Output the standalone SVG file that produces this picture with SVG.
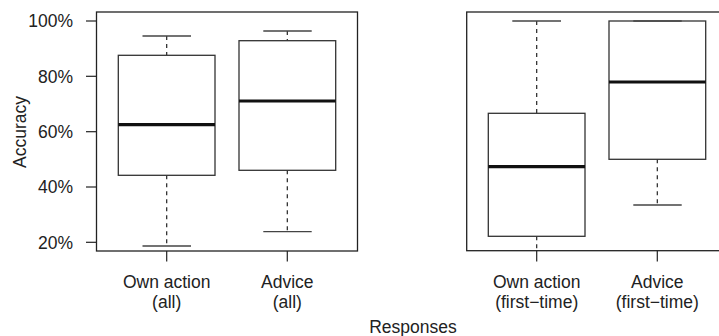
<svg xmlns="http://www.w3.org/2000/svg" width="719" height="336" viewBox="0 0 719 336">
<style>
text{font-family:"Liberation Sans",Arial,Helvetica,sans-serif;font-size:17.5px;fill:#222}
.frame{fill:none;stroke:#222;stroke-width:1.3}
.box{fill:#fff;stroke:#333;stroke-width:1.3}
.med{stroke:#111;stroke-width:3.2}
.wh{stroke:#222;stroke-width:1.2;stroke-dasharray:4 4}
.cap{stroke:#444;stroke-width:1.3}
.tick{stroke:#222;stroke-width:1.2}
.yl{text-anchor:end}
.xl{text-anchor:middle}
</style>
<defs>
<clipPath id="clipR"><rect x="466.7" y="12" width="261" height="238.7"/></clipPath>
</defs>
<rect width="719" height="336" fill="#fff"/>

<g id="axes-left">
<rect class="frame" x="96.5" y="12" width="261" height="239"/>
<line class="tick" x1="86" y1="21" x2="96.5" y2="21"/>
<line class="tick" x1="86" y1="76.3" x2="96.5" y2="76.3"/>
<line class="tick" x1="86" y1="131.7" x2="96.5" y2="131.7"/>
<line class="tick" x1="86" y1="187" x2="96.5" y2="187"/>
<line class="tick" x1="86" y1="242.3" x2="96.5" y2="242.3"/>
<text class="yl" x="73" y="27.3">100%</text>
<text class="yl" x="73" y="82.6">80%</text>
<text class="yl" x="73" y="138">60%</text>
<text class="yl" x="73" y="193.3">40%</text>
<text class="yl" x="73" y="248.6">20%</text>
<text class="xl" transform="translate(26,132) rotate(-90)">Accuracy</text>
<line class="tick" x1="166.7" y1="251" x2="166.7" y2="261.5"/>
<line class="tick" x1="287.3" y1="251" x2="287.3" y2="261.5"/>
<text class="xl" x="166.7" y="288">Own action</text>
<text class="xl" x="166.7" y="308">(all)</text>
<text class="xl" x="287.3" y="288">Advice</text>
<text class="xl" x="287.3" y="308">(all)</text>
</g>

<g id="axes-right">
<rect class="frame" x="466.7" y="12" width="261" height="238.7"/>
<line class="tick" x1="536.7" y1="250.7" x2="536.7" y2="261.5"/>
<line class="tick" x1="657.3" y1="250.7" x2="657.3" y2="261.5"/>
<text class="xl" x="536.7" y="288">Own action</text>
<text class="xl" x="536.7" y="308">(first−time)</text>
<text class="xl" x="657.3" y="288">Advice</text>
<text class="xl" x="657.3" y="308">(first−time)</text>
</g>

<g id="box-own-all">
<line class="wh" x1="166.7" y1="36" x2="166.7" y2="55.3"/>
<line class="wh" x1="166.7" y1="175.3" x2="166.7" y2="246"/>
<line class="cap" x1="142.5" y1="36" x2="191" y2="36"/>
<line class="cap" x1="142.5" y1="246" x2="191" y2="246"/>
<rect class="box" x="118.3" y="55.3" width="96.7" height="120"/>
<line class="med" x1="118.3" y1="124.7" x2="215" y2="124.7"/>
</g>

<g id="box-advice-all">
<line class="wh" x1="287.3" y1="31" x2="287.3" y2="40.7"/>
<line class="wh" x1="287.3" y1="170.3" x2="287.3" y2="231.7"/>
<line class="cap" x1="263.3" y1="31" x2="311.7" y2="31"/>
<line class="cap" x1="263.3" y1="231.7" x2="311.7" y2="231.7"/>
<rect class="box" x="239" y="40.7" width="96.7" height="129.6"/>
<line class="med" x1="239" y1="101" x2="335.7" y2="101"/>
</g>

<g id="box-own-first" clip-path="url(#clipR)">
<line class="wh" x1="536.7" y1="21" x2="536.7" y2="113.3"/>
<line class="wh" x1="536.7" y1="236.3" x2="536.7" y2="300"/>
<line class="cap" x1="512.3" y1="21" x2="561" y2="21"/>
<rect class="box" x="488.3" y="113.3" width="96.7" height="123"/>
<line class="med" x1="488.3" y1="166.7" x2="585" y2="166.7"/>
</g>

<g id="box-advice-first" clip-path="url(#clipR)">
<line class="wh" x1="657.3" y1="159.3" x2="657.3" y2="205"/>
<line class="cap" x1="633.3" y1="205" x2="681.7" y2="205"/>
<rect class="box" x="609" y="21" width="96.7" height="138.3"/>
<line class="cap" x1="633.3" y1="21" x2="681.7" y2="21"/>
<line class="med" x1="609" y1="82" x2="705.7" y2="82"/>
</g>

<g id="title">
<text class="xl" x="413" y="333">Responses</text>
</g>
</svg>
